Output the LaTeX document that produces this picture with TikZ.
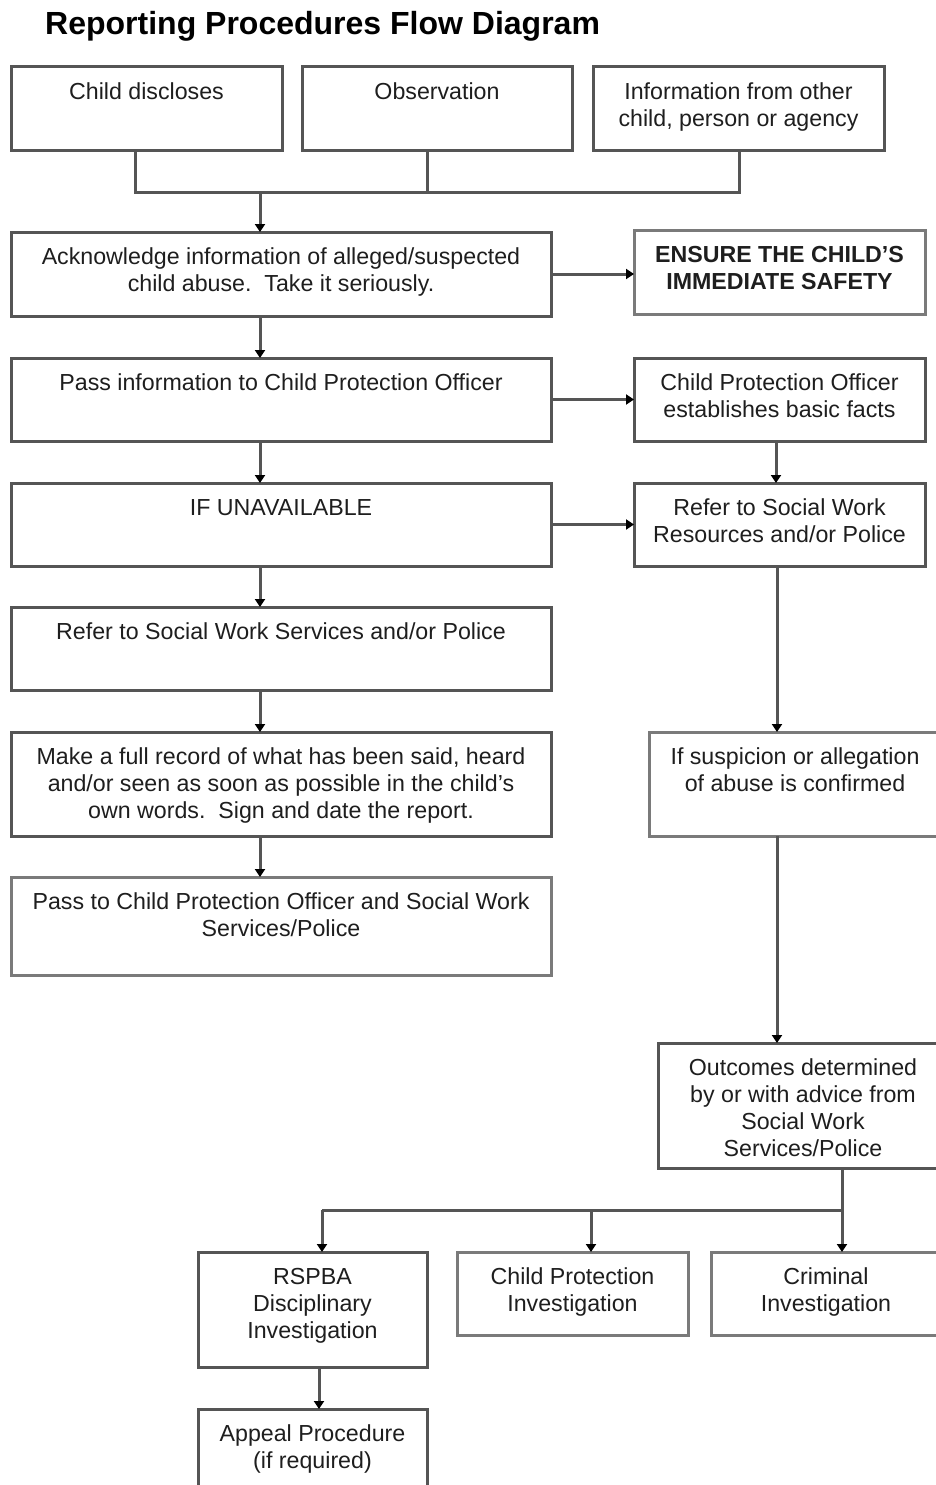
\documentclass[tikz,border=0pt]{standalone}
\usepackage{fontspec}
\setmainfont{Liberation Sans}
\usetikzlibrary{arrows.meta}
\definecolor{linegray}{HTML}{555555}
\definecolor{lightline}{HTML}{7A7A7A}
\definecolor{txt}{HTML}{1E1E1E}
\newcommand\bt[3]{\vbox to #2{\hsize=#1\relax\linewidth=#1\relax\parindent=0pt\centering\baselineskip=27pt\lineskiplimit=-20pt\rule{0pt}{32pt}#3\par\vfil}}
\tikzset{
  box/.style={draw=linegray, line width=3pt, rectangle, inner sep=0pt, outer sep=0pt, anchor=north west, text=txt, font=\fontsize{23.2pt}{27pt}\selectfont},
  lbox/.style={box, draw=lightline},
  conn/.style={draw=linegray, line width=3pt},
  arr/.style={conn, -{Triangle[width=10pt,length=8pt,color=black]}}
}
\begin{document}
\begin{tikzpicture}[x=1pt,y=-1pt]
\useasboundingbox[fill=white] (0,0) rectangle (936,1485);
\node[anchor=base west, font=\bfseries\fontsize{32pt}{36pt}\selectfont, text=black, inner sep=0pt] (title) at (45,35) {Reporting Procedures Flow Diagram};
% top row
\node[box] (cd) at (11,67) {\bt{271pt}{83pt}{Child discloses}};
\node[box] (obs) at (302,67) {\bt{270pt}{83pt}{Observation}};
\node[box] (info) at (593,67) {\bt{291pt}{83pt}{Information from other\\child, person or agency}};
% left column
\node[box] (ack) at (11,232) {\bt{540pt}{84pt}{Acknowledge information of alleged/suspected\\child abuse.\ \ Take it seriously.}};
\node[lbox] (ens) at (634,230) {\bt{291pt}{84pt}{\bfseries ENSURE THE CHILD'S\\IMMEDIATE SAFETY}};
\node[box] (pass) at (11,358) {\bt{540pt}{83pt}{Pass information to Child Protection Officer}};
\node[box] (cpo) at (634,358) {\bt{291pt}{83pt}{Child Protection Officer\\establishes basic facts}};
\node[box] (unav) at (11,483) {\bt{540pt}{83pt}{IF UNAVAILABLE}};
\node[box] (refr) at (634,483) {\bt{291pt}{83pt}{Refer to Social Work\\Resources and/or Police}};
\node[box] (refl) at (11,607) {\bt{540pt}{83pt}{Refer to Social Work Services and/or Police}};
\node[box] (rec) at (11,732) {\bt{540pt}{104pt}{Make a full record of what has been said, heard\\and/or seen as soon as possible in the child's\\own words.\ \ Sign and date the report.}};
\node[lbox] (pass2) at (11,877) {\bt{540pt}{98pt}{Pass to Child Protection Officer and Social Work\\Services/Police}};
% right column
\node[lbox] (susp) at (649,732) {\bt{292pt}{104pt}{If suspicion or allegation\\of abuse is confirmed}};
\node[box] (out) at (658,1043) {\bt{290pt}{125pt}{Outcomes determined\\by or with advice from\\Social Work\\Services/Police}};
% bottom row
\node[box] (rspba) at (198,1252) {\bt{229pt}{115pt}{RSPBA\\Disciplinary\\Investigation}};
\node[lbox] (cpi) at (457,1252) {\bt{231pt}{83pt}{Child Protection\\Investigation}};
\node[lbox] (crim) at (711,1252) {\bt{230pt}{83pt}{Criminal\\Investigation}};
\node[box] (app) at (198,1409) {\bt{229pt}{95pt}{Appeal Procedure\\(if required)}};
% helper coordinates
\coordinate (busL) at (135,192);
\coordinate (busR) at (739,192);
\coordinate (busM) at (427,192);
\coordinate (busA) at (260,192);
\coordinate (colL) at (260,0);
\coordinate (colR) at (776,0);
\coordinate (colS) at (777,0);
\coordinate (brR) at (842,1210);
\coordinate (brL) at (322,1210);
\coordinate (brM) at (591,1210);
\coordinate (colA) at (319,0);
% connectors top
\draw[conn] (cd.south -| busL) -- (busL) -- (busR) -- (info.south -| busR);
\draw[conn] (obs.south -| busM) -- (busM);
\draw[arr] (busA) -- (ack.north -| busA);
% left column arrows
\draw[arr] (ack.east) -- (ack.east -| ens.west);
\draw[arr] (ack.south -| colL) -- (pass.north -| colL);
\draw[arr] (pass.east) -- (pass.east -| cpo.west);
\draw[arr] (pass.south -| colL) -- (unav.north -| colL);
\draw[arr] (unav.east) -- (unav.east -| refr.west);
\draw[arr] (unav.south -| colL) -- (refl.north -| colL);
\draw[arr] (refl.south -| colL) -- (rec.north -| colL);
\draw[arr] (rec.south -| colL) -- (pass2.north -| colL);
% right column arrows
\draw[arr] (cpo.south -| colR) -- (refr.north -| colR);
\draw[arr] (refr.south -| colS) -- (susp.north -| colS);
\draw[arr] (susp.south -| colS) -- (out.north -| colS);
% branches
\draw[conn] (out.south -| brR) -- (brR) -- (brL);
\draw[arr] (brR) -- (crim.north -| brR);
\draw[arr] (brL) -- (rspba.north -| brL);
\draw[arr] (brM) -- (cpi.north -| brM);
\draw[arr] (rspba.south -| colA) -- (app.north -| colA);
\end{tikzpicture}
\end{document}
